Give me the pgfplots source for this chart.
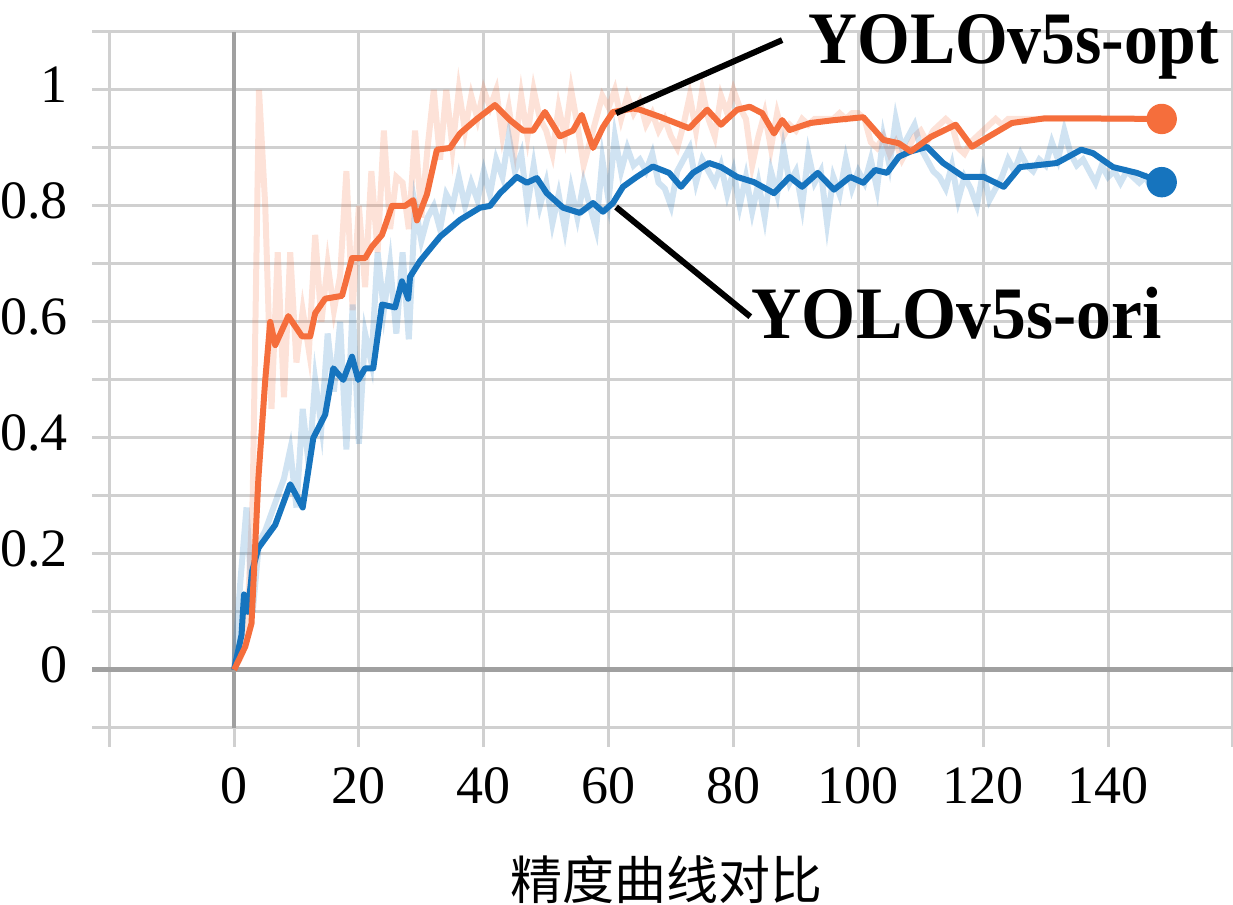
\documentclass[border=0pt]{standalone}
\usepackage{fontspec}
\setmainfont{Liberation Serif}
\newfontfamily\cjk{Noto Sans CJK SC}
\usepackage{pgfplots}
\pgfplotsset{compat=1.18}
\definecolor{tbor}{RGB}{245,110,60}
\definecolor{tbbl}{RGB}{22,116,190}
\definecolor{gridc}{RGB}{208,208,208}
\definecolor{axc}{RGB}{160,160,160}
\begin{document}
\begin{tikzpicture}
\useasboundingbox (-23.08pt,-39.5pt) rectangle (285.18pt,186.75pt);
\begin{axis}[
  at={(0,0)}, anchor=south west,
  scale only axis, width=285.15pt, height=178.75pt,
  xmin=-22.7, xmax=160, ymin=-0.133, ymax=1.1,
  clip=false,
  axis line style={draw=none},
  major tick length=0pt, minor tick length=0pt,
  xtick={0,20,...,140}, minor xtick={-20,160},
  ytick={0,0.2,0.4,0.6,0.8,1}, minor ytick={-0.1,0.1,0.3,0.5,0.7,0.9,1.1},
  grid=both,
  major grid style={gridc, line width=0.75pt},
  minor grid style={gridc, line width=0.75pt},
  /pgf/number format/assume math mode=true,
  tick label style={font=\fontsize{13.5}{14}\selectfont},
  yticklabel style={anchor=east, inner sep=0pt, xshift=-6pt, yshift=1.2pt},
  xticklabel style={anchor=north, inner sep=0pt, yshift=-5pt},
  xlabel={\cjk 精度曲线对比},
  xlabel style={at={(axis description cs:0.503,-0.151)}, anchor=north, inner sep=0pt, font=\fontsize{13}{14}\selectfont},
]
% axes lines
\draw[axc, line width=1pt] (axis cs:0,-0.1) -- (axis cs:0,1.1);
\draw[axc, line width=1.2pt] (axis cs:-22.7,0) -- (axis cs:160,0);
% raw orange
\addplot[tbor, opacity=0.2, line width=1.5pt] coordinates {
(0,0.0)(1,0.02)(2,0.05)(3,0.30)(4,1.00)(5,0.80)(6,0.45)(7,0.72)(8,0.47)(9,0.72)
(10,0.53)(11,0.62)(12,0.55)(13,0.75)(14,0.60)(15,0.70)(16,0.62)(17,0.68)(18,0.86)(19,0.62)
(20,0.80)(21,0.66)(22,0.86)(23,0.72)(24,0.93)(25,0.76)(26,0.85)(27,0.84)(28,0.76)(29,0.93)
(30,0.78)(31,0.90)(32,1.00)(33,0.88)(34,1.00)(35,0.90)(36,1.00)(37,0.93)(38,0.99)(39,0.95)
(40,1.00)(41,0.97)(42,1.00)(43,0.92)(44,0.97)(45,0.90)(46,0.99)(47,0.92)(48,1.00)(49,0.95)
(50,0.93)(51,0.89)(52,0.97)(53,0.92)(54,1.00)(55,0.94)(56,0.87)(57,0.91)(58,0.95)(59,0.99)
(60,0.97)(61,1.00)(62,0.95)(63,0.99)(64,0.96)(65,0.98)(66,0.94)(67,0.96)(68,0.93)(69,0.95)
(70,0.92)(71,0.90)(72,0.94)(73,0.99)(74,0.93)(75,1.00)(76,0.95)(77,0.92)(78,0.99)(79,0.96)
(80,1.00)(81,0.97)(82,0.95)(83,0.87)(84,0.92)(85,0.96)(86,0.90)(87,0.96)(88,0.92)(89,0.94)
(90,0.93)(91,0.95)(92,0.94)(93,0.95)(94,0.95)(95,0.95)(96,0.95)(97,0.96)(98,0.95)(99,0.96)
(100,0.96)(101,0.95)(102,0.91)(103,0.90)(104,0.92)(105,0.89)(106,0.91)(107,0.88)(108,0.90)(109,0.92)
(110,0.93)(111,0.91)(112,0.93)(113,0.94)(114,0.95)(115,0.94)(116,0.90)(117,0.89)(118,0.91)(119,0.92)
(120,0.93)(121,0.94)(122,0.95)(123,0.94)(124,0.95)(125,0.95)(128,0.95)(132,0.95)(136,0.95)(140,0.95)(144,0.95)(148.6,0.95)
};
% raw blue
\addplot[tbbl, opacity=0.2, line width=1.5pt] coordinates {
(0,0.0)(1,0.15)(2,0.28)(3,0.10)(4,0.22)(5,0.24)(6,0.27)(7,0.30)(8,0.33)(9,0.38)
(10,0.28)(11,0.45)(12,0.35)(13,0.50)(14,0.42)(15,0.58)(16,0.48)(17,0.60)(18,0.38)(19,0.63)
(20,0.39)(21,0.58)(22,0.53)(23,0.72)(24,0.62)(25,0.70)(26,0.58)(27,0.72)(28,0.57)(29,0.80)
(30,0.74)(31,0.78)(32,0.80)(33,0.76)(34,0.82)(35,0.80)(36,0.85)(37,0.80)(38,0.84)(39,0.81)
(40,0.86)(41,0.82)(42,0.88)(43,0.85)(44,0.92)(45,0.86)(46,0.89)(47,0.80)(48,0.87)(49,0.80)
(50,0.84)(51,0.77)(52,0.82)(53,0.76)(54,0.83)(55,0.78)(56,0.84)(57,0.80)(58,0.76)(59,0.88)
(60,0.81)(61,0.92)(62,0.86)(63,0.90)(64,0.87)(65,0.88)(66,0.86)(67,0.89)(68,0.84)(69,0.83)
(70,0.80)(71,0.86)(72,0.88)(73,0.90)(74,0.84)(75,0.88)(76,0.86)(77,0.84)(78,0.87)(79,0.82)
(80,0.86)(81,0.80)(82,0.85)(83,0.79)(84,0.84)(85,0.78)(86,0.86)(87,0.82)(88,0.90)(89,0.84)
(90,0.86)(91,0.80)(92,0.89)(93,0.84)(94,0.86)(95,0.77)(96,0.85)(97,0.82)(98,0.88)(99,0.83)
(100,0.86)(101,0.84)(102,0.88)(103,0.83)(104,0.92)(105,0.87)(106,0.95)(107,0.90)(108,0.92)(109,0.94)
(110,0.90)(111,0.88)(112,0.86)(113,0.85)(114,0.83)(115,0.87)(116,0.81)(117,0.85)(118,0.83)(119,0.80)
(120,0.86)(121,0.81)(122,0.83)(123,0.85)(124,0.88)(125,0.86)(126,0.89)(127,0.87)(128,0.86)(129,0.88)
(130,0.87)(131,0.91)(132,0.88)(133,0.93)(134,0.89)(135,0.87)(136,0.88)(137,0.86)(138,0.84)(139,0.87)
(140,0.85)(141,0.86)(142,0.84)(143,0.86)(144,0.85)(145,0.84)(146,0.85)(147,0.83)(148.6,0.84)
};
% smoothed blue
\addplot[tbbl, line width=1.5pt, line join=round] coordinates {
(0,0)(1.2,0.06)(1.6,0.13)(2.2,0.10)(2.9,0.17)(3.9,0.21)(6.6,0.25)(9,0.32)(11,0.28)(12.7,0.40)
(14.6,0.44)(15.9,0.52)(17.5,0.50)(18.9,0.54)(19.9,0.50)(21,0.52)(22.3,0.52)(23.7,0.63)(25.8,0.625)
(26.9,0.67)(27.9,0.64)(28.2,0.678)(29.8,0.705)(33,0.747)(36.2,0.776)(39.4,0.797)(41,0.80)(42.6,0.822)
(45.3,0.85)(46.9,0.84)(48.5,0.848)(50.1,0.822)(52.7,0.797)(55.4,0.788)(57.5,0.805)(59.1,0.79)
(60.7,0.805)(62.3,0.833)(64.5,0.85)(67.1,0.868)(69.7,0.857)(71.6,0.833)(73.5,0.857)(76.1,0.874)
(78,0.867)(80.6,0.85)(83.3,0.841)(86.5,0.822)(89,0.85)(91,0.833)(93.5,0.857)(96.1,0.828)(98.7,0.85)
(100.8,0.84)(102.7,0.862)(104.6,0.857)(106.5,0.885)(108.4,0.894)(111,0.902)(113.6,0.874)(116.9,0.85)
(120.1,0.85)(123.3,0.833)(125.9,0.867)(131.8,0.874)(135.7,0.897)(137.6,0.891)(140.8,0.867)(144.6,0.857)(148.6,0.841)
};
% smoothed orange
\addplot[tbor, line width=1.5pt, line join=round] coordinates {
(0,0)(1.8,0.04)(2.8,0.08)(3.9,0.33)(5,0.5)(5.8,0.60)(6.6,0.56)(8.7,0.61)(10.9,0.575)(12.2,0.575)
(13,0.615)(14.6,0.64)(17.3,0.645)(18.9,0.71)(21,0.71)(22.1,0.73)(23.7,0.75)(25.3,0.80)(27.4,0.80)
(28.7,0.81)(29.3,0.775)(30.9,0.82)(32.5,0.897)(34.6,0.90)(36.2,0.925)(38.9,0.95)(41.8,0.974)
(44.2,0.948)(46.3,0.93)(47.9,0.93)(49.8,0.962)(52.2,0.92)(54.3,0.93)(55.7,0.957)(57.5,0.90)
(59.1,0.936)(60.7,0.962)(63.9,0.968)(65,0.966)(68.4,0.953)(72.9,0.934)(75.8,0.966)(78,0.94)
(80.6,0.966)(82.6,0.971)(84.6,0.96)(86.5,0.925)(87.8,0.948)(89,0.931)(92.3,0.943)(96.1,0.948)
(100.8,0.953)(104,0.914)(106.5,0.908)(108.4,0.894)(111.6,0.919)(115.6,0.94)(118.2,0.902)
(120.8,0.919)(124.6,0.943)(129.8,0.951)(136.3,0.951)(148.6,0.95)
};
% end markers
\addplot[only marks, mark=*, mark size=3.6pt, tbbl] coordinates {(148.6,0.841)};
\addplot[only marks, mark=*, mark size=3.6pt, tbor] coordinates {(148.6,0.95)};
% annotations
\draw[black, line width=1.5pt] (axis cs:61.2,0.960) -- (axis cs:87.8,1.086);
\draw[black, line width=1.5pt] (axis cs:61.2,0.798) -- (axis cs:82.7,0.609);
\node[anchor=base west, inner sep=0pt, font=\fontsize{18.5}{19}\selectfont\bfseries] at (axis cs:91.9,1.045) {\scalebox{0.915}[1]{YOLOv5s-opt}};
\node[anchor=base west, inner sep=0pt, font=\fontsize{18.5}{19}\selectfont\bfseries] at (axis cs:82.8,0.572) {\scalebox{0.94}[1]{YOLOv5s-ori}};
\end{axis}
\end{tikzpicture}
\end{document}
